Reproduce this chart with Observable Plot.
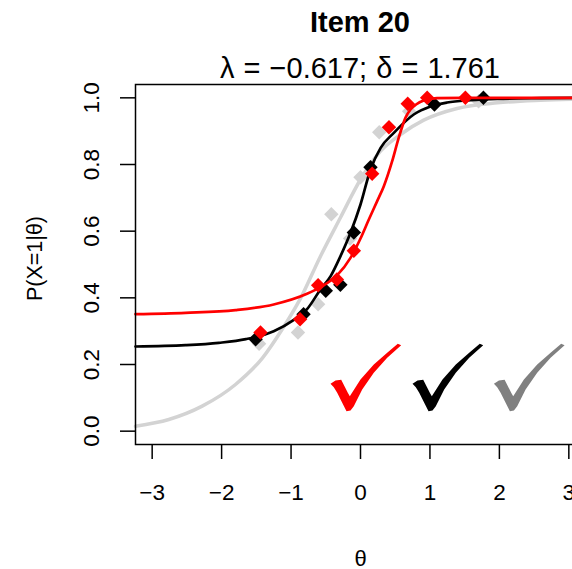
<!DOCTYPE html>
<html>
<head>
<meta charset="utf-8">
<script src="https://cdn.jsdelivr.net/npm/d3@7"></script>
<script src="https://cdn.jsdelivr.net/npm/@observablehq/plot@0.6"></script>
<style>
  html, body { margin: 0; padding: 0; background: white; overflow: hidden; }
  #wrap { width: 572px; height: 569px; position: relative; font-family: "Liberation Sans", Arial, sans-serif; color: black; }
  #header { position: relative; width: 572px; height: 80px; }
  #title { position: absolute; left: 135px; width: 450px; top: 0; height: 44px; line-height: 44px; text-align: center; font-size: 29px; font-weight: bold; white-space: nowrap; }
  #subtitle { position: absolute; left: 135px; width: 450px; top: 50px; height: 36px; line-height: 36px; text-align: center; font-size: 29px; word-spacing: 1px; white-space: nowrap; }
  #chart svg { display: block; overflow: hidden; }
</style>
</head>
<body>
<div id="wrap">
  <div id="header">
    <div id="title">Item 20</div>
    <div id="subtitle">λ = −0.617; δ = 1.761</div>
  </div>
  <div id="chart"></div>
</div>
<script>
// ---- data ----
const xTicks = [-3, -2, -1, 0, 1, 2, 3];
const yTicks = [0, 0.2, 0.4, 0.6, 0.8, 1.0];

// light gray curve
const grayCurveTheta = [-3.24, -2.76, -2.28, -1.80, -1.41, -1.13, -0.86, -0.576, -0.288, 0, 0.288, 0.576, 0.91, 1.39, 1.97, 2.59, 3.24];
const grayCurveP     = [0.015, 0.035, 0.075, 0.140, 0.220, 0.305, 0.400, 0.525, 0.641, 0.755, 0.840, 0.890, 0.933, 0.968, 0.985, 0.993, 0.997];

// black curve
const blackCurveTheta = [-3.24, -2.52, -2.04, -1.65, -1.25, -0.96, -0.77, -0.576, -0.43, -0.288, -0.144, 0.0, 0.144, 0.29, 0.48, 0.767, 1.007, 1.247, 1.58, 1.97, 2.6, 3.24];
const blackCurveP     = [0.254, 0.258, 0.265, 0.276, 0.300, 0.334, 0.366, 0.425, 0.465, 0.525, 0.595, 0.680, 0.785, 0.850, 0.895, 0.950, 0.974, 0.986, 0.993, 0.997, 0.999, 1.0];

// red curve
const redCurveTheta = [-3.24, -2.52, -1.80, -1.25, -0.77, -0.576, -0.335, -0.144, 0, 0.12, 0.24, 0.336, 0.456, 0.55, 0.647, 0.72, 0.80, 0.91, 1.10, 1.5, 3.24];
const redCurveP     = [0.351, 0.355, 0.363, 0.380, 0.412, 0.432, 0.468, 0.520, 0.578, 0.635, 0.690, 0.735, 0.810, 0.880, 0.940, 0.965, 0.980, 0.992, 0.999, 1.0, 1.0];

// observed points
const grayPtTheta  = [-1.46, -0.90, -0.61, -0.42, -0.15, 0.0, 0.27, 0.70, 1.70];
const grayPtP      = [0.262, 0.296, 0.381, 0.651, 0.578, 0.762, 0.897, 0.960, 0.990];
const blackPtTheta = [-1.51, -0.82, -0.50, -0.29, -0.096, 0.144, 1.065, 1.77];
const blackPtP     = [0.276, 0.351, 0.421, 0.439, 0.596, 0.792, 0.980, 1.0];
const redPtTheta   = [-1.44, -0.87, -0.61, -0.34, -0.096, 0.168, 0.41, 0.68, 0.96, 1.51];
const redPtP       = [0.296, 0.336, 0.438, 0.455, 0.541, 0.772, 0.912, 0.982, 1.0, 1.0];

// check marks
const checkTheta  = [0.072, 1.253, 2.425];
const checkP      = [0.162, 0.162, 0.162];
const checkColors = ["#FF0000", "#000000", "#808080"];

const zip = (xs, ys) => xs.map((x, i) => ({x, y: ys[i]}));
const grayCurve = zip(grayCurveTheta, grayCurveP);
const blackCurve = zip(blackCurveTheta, blackCurveP);
const redCurve = zip(redCurveTheta, redCurveP);
const grayPts = zip(grayPtTheta, grayPtP);
const blackPts = zip(blackPtTheta, blackPtP);
const redPts = zip(redPtTheta, redPtP);
const checks = checkTheta.map((x, i) => ({x, y: checkP[i], c: checkColors[i]}));

const fmtX = d => (d < 0 ? "\u2212" + Math.abs(d) : String(d));
const fmtY = d => d.toFixed(1);

// brush-style check mark glyph (outline, unit radius 35)
const checkOutline = [
  [-35, 6.7], [-30, 3.3], [-24.3, 2.7], [-21, 9], [-17.7, 15.7], [-15.7, 19],
  [-5, 2.3], [8.3, -12.7], [21.7, -24.3], [32.3, -33.3], [35.7, -32],
  [21.7, -19.3], [8.3, -4.3], [-3.3, 12.3], [-11.7, 29], [-15, 33.3],
  [-19, 34], [-23.3, 25.7], [-28.3, 15.7], [-31.7, 10]
];
const checkSymbol = {
  draw(context, size) {
    const k = Math.sqrt(size / Math.PI) / 35;
    checkOutline.forEach(([px, py], i) => {
      if (i === 0) context.moveTo(px * k, py * k);
      else context.lineTo(px * k, py * k);
    });
    context.closePath();
  }
};

const LIGHT = "#D3D3D3";

const chart = Plot.plot({
  width: 572,
  height: 489,
  marginLeft: 135,
  marginRight: -13,
  marginTop: 4,
  marginBottom: 125,
  style: {fontFamily: "'Liberation Sans', Arial, sans-serif", fontSize: "22px", color: "black", background: "white"},
  x: {domain: [-3.24, 3.24]},
  y: {domain: [-0.04, 1.04]},
  color: {type: "identity"},
  marks: [
    Plot.line(grayCurve, {x: "x", y: "y", stroke: LIGHT, strokeWidth: 3.5, curve: "monotone-x"}),
    Plot.dot(grayPts, {x: "x", y: "y", symbol: "diamond2", r: 6.5, fill: LIGHT, stroke: "none"}),
    Plot.line(blackCurve, {x: "x", y: "y", stroke: "black", strokeWidth: 2.7, curve: "monotone-x"}),
    Plot.dot(blackPts, {x: "x", y: "y", symbol: "diamond2", r: 6.5, fill: "black", stroke: "none"}),
    Plot.line(redCurve, {x: "x", y: "y", stroke: "#FF0000", strokeWidth: 2.7, curve: "monotone-x"}),
    Plot.dot(redPts, {x: "x", y: "y", symbol: "diamond2", r: 6.5, fill: "#FF0000", stroke: "none"}),
    Plot.dot(checks, {x: "x", y: "y", symbol: checkSymbol, r: 35, fill: "c", stroke: "none"}),
    Plot.frame({stroke: "black", strokeWidth: 1.5}),
    Plot.axisX(xTicks, {tickSize: 15, tickPadding: 25, tickFormat: fmtX, fontSize: 22.5, strokeWidth: 1.5, label: null}),
    Plot.axisY(yTicks, {tickSize: 15, tickPadding: 22, tickRotate: -90, tickFormat: fmtY, fontSize: 22.5, strokeWidth: 1.5, label: null}),
    Plot.text(["P(X=1|\u03B8)"], {frameAnchor: "left", dx: -94, dy: -6, rotate: -90, lineAnchor: "bottom", textAnchor: "middle", fontSize: 21.5}),
    Plot.text(["\u03B8"], {frameAnchor: "bottom", dy: 121, lineAnchor: "bottom", textAnchor: "middle", fontSize: 22})
  ]
});
document.getElementById("chart").appendChild(chart);
</script>
</body>
</html>
